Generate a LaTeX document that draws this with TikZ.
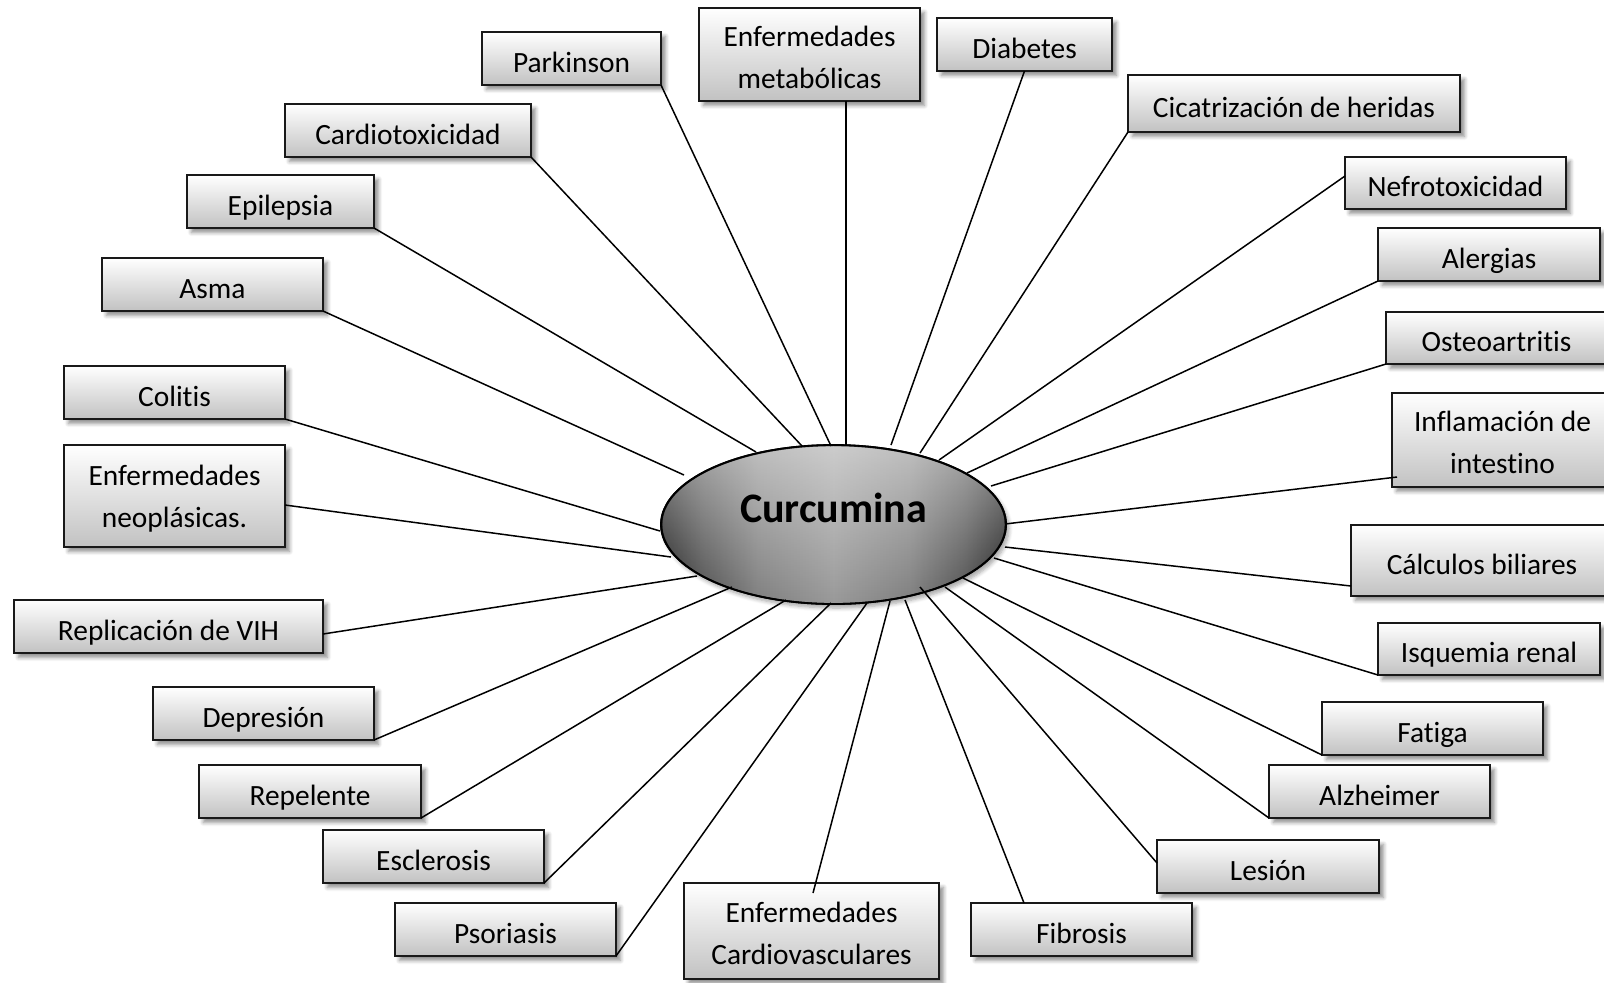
\documentclass[tikz,border=0pt]{standalone}
\usepackage{fontspec}
\setmainfont{Carlito}[Ligatures=NoCommon]
\usetikzlibrary{calc,shadows.blur,shapes.geometric,fadings}
\pgfdeclarehorizontalshading{curch}{100bp}{color(0bp)=(black!88); color(25bp)=(black!88); color(31bp)=(black!68); color(39bp)=(black!50); color(50bp)=(black!40); color(61bp)=(black!50); color(69bp)=(black!68); color(75bp)=(black!88); color(100bp)=(black!88)}
\tikzset{
  boxbase/.style={draw=black!90, line width=0.9pt, inner sep=0pt, outer sep=0pt,
    top color=white, bottom color=black!24, font=\fontsize{14.7}{21}\selectfont,
    blur shadow={shadow xshift=2.2pt, shadow yshift=-2.2pt, shadow blur steps=6, shadow opacity=45}},
  one/.style={boxbase, text height=13.5pt, text depth=0pt},
  two/.style={boxbase, align=center},
  conn/.style={draw=black, line width=0.75pt},
  centre/.style={ellipse, draw=black, line width=0.9pt, shading=curch, inner sep=0pt,
    minimum width=172.5pt, minimum height=79.5pt,
    blur shadow={shadow xshift=1.5pt, shadow yshift=-2pt, shadow blur steps=6, shadow opacity=35}},
  shine/.style={fill=white, fill opacity=0.5, path fading=south}
}
\newcommand\mkbox[7]{\node[#1, minimum width={(#5-#3)*0.5pt}, minimum height={(#6-#4)*0.5pt}] (#2) at ({(#3+#5)/2},{(#4+#6)/2}) {#7};}
\newcommand\fl{\rule{0pt}{13pt}}
\begin{document}
\begin{tikzpicture}[x=0.5pt,y=-0.5pt]
\useasboundingbox (0,0) rectangle (1604,982);
\clip (0,0) rectangle (1604,982);
\node[centre] (cur) at (833.5,524.5) {};
\path[shine] (cur.center) ellipse [x radius=171, y radius=78];
\draw[line width=0.9pt] (cur.center) ellipse [x radius=172.5, y radius=79.5];
\node[font=\fontsize{21}{25}\selectfont\bfseries, text height=13.5pt, text depth=16pt, inner sep=0pt] (curtext) at (cur.center) {Curcumina};
% boxes
\mkbox{one}{parkinson}{482}{32}{661}{85}{Parkinson}
\mkbox{two}{enfmet}{699}{8}{920}{101}{\fl Enfermedades\\metabólicas}
\mkbox{one}{diabetes}{937}{18}{1112}{71}{Diabetes}
\mkbox{one}{cicat}{1128}{75}{1460}{132}{Cicatrización de heridas}
\mkbox{one}{nefro}{1345}{157}{1566}{209}{Nefrotoxicidad}
\mkbox{one}{alerg}{1378}{228}{1600}{281}{Alergias}
\mkbox{one}{osteo}{1386}{312}{1607}{364}{Osteoartritis}
\mkbox{two}{inflam}{1392}{393}{1613}{487}{\fl Inflamación de\\intestino}
\mkbox{one}{calc}{1351}{525}{1613}{596}{Cálculos biliares}
\mkbox{one}{isq}{1378}{623}{1600}{675}{Isquemia renal}
\mkbox{one}{fatiga}{1322}{702}{1543}{755}{Fatiga}
\mkbox{one}{alz}{1269}{765}{1490}{818}{Alzheimer}
\mkbox{one}{lesion}{1157}{840}{1379}{893}{Lesión}
\mkbox{one}{fibrosis}{971}{903}{1192}{956}{Fibrosis}
\mkbox{two}{cardio}{684}{883}{939}{979}{\fl Enfermedades\\Cardiovasculares}
\mkbox{one}{psor}{395}{903}{616}{956}{Psoriasis}
\mkbox{one}{escl}{323}{830}{544}{883}{Esclerosis}
\mkbox{one}{repel}{199}{765}{421}{818}{Repelente}
\mkbox{one}{depr}{153}{687}{374}{740}{Depresión}
\mkbox{one}{vih}{14}{600}{323}{653}{Replicación de VIH}
\mkbox{two}{neo}{64}{445}{285}{547}{\fl Enfermedades\\neoplásicas.}
\mkbox{one}{colitis}{64}{366}{285}{419}{Colitis}
\mkbox{one}{asma}{102}{258}{323}{311}{Asma}
\mkbox{one}{epil}{187}{175}{374}{228}{Epilepsia}
\mkbox{one}{cardiotox}{285}{104}{531}{157}{Cardiotoxicidad}
% connector ends at the centre
\coordinate (eParkinson) at (831,446);
\coordinate (eEnfmet) at (846,445);
\coordinate (eDiabetes) at (891,445);
\coordinate (eCicat) at (920,453);
\coordinate (eNefro) at (939,460);
\coordinate (eAlerg) at (967,473);
\coordinate (eOsteo) at (991,486);
\coordinate (eInflam) at (1005,524);
\coordinate (eCalc) at (1005,547);
\coordinate (eIsq) at (994,558);
\coordinate (eFatiga) at (963,578);
\coordinate (eAlz) at (945,587);
\coordinate (eLesion) at (920,587);
\coordinate (eFibrosis) at (905,600);
\coordinate (eCardio) at (890,601);
\coordinate (ePsor) at (867,603);
\coordinate (eEscl) at (831,603);
\coordinate (eRepel) at (786,600);
\coordinate (eDepr) at (732,587);
\coordinate (eVih) at (697,576);
\coordinate (eNeo) at (671,557);
\coordinate (eColitis) at (660,531);
\coordinate (eAsma) at (684,475);
\coordinate (eEpil) at (756,452);
\coordinate (eCardiotox) at (802,446);
% connectors
\draw[conn] (parkinson.south east) -- (eParkinson);
\draw[conn] (enfmet.south -| eEnfmet) -- (eEnfmet);
\draw[conn] (diabetes.south) -- (eDiabetes);
\draw[conn] (cicat.south west) -- (eCicat);
\draw[conn] ([yshift=3.5pt]nefro.west) -- (eNefro);
\draw[conn] (alerg.south west) -- (eAlerg);
\draw[conn] (osteo.south west) -- (eOsteo);
\draw[conn] ([xshift=2.5pt,yshift=5pt]inflam.south west) -- (eInflam);
\draw[conn] ([yshift=5pt]calc.south west) -- (eCalc);
\draw[conn] (isq.south west) -- (eIsq);
\draw[conn] (fatiga.south west) -- (eFatiga);
\draw[conn] (alz.south west) -- (eAlz);
\draw[conn] ([yshift=1.75pt]lesion.west) -- (eLesion);
\draw[conn] ([xshift=26.5pt]fibrosis.north west) -- (eFibrosis);
\draw[conn] ([xshift=64.5pt,yshift=-5pt]cardio.north west) -- (eCardio);
\draw[conn] (psor.south east) -- (ePsor);
\draw[conn] (escl.south east) -- (eEscl);
\draw[conn] (repel.south east) -- (eRepel);
\draw[conn] (depr.south east) -- (eDepr);
\draw[conn] ([yshift=-3.75pt]vih.east) -- (eVih);
\draw[conn] ([yshift=-4.5pt]neo.east) -- (eNeo);
\draw[conn] (colitis.south east) -- (eColitis);
\draw[conn] (asma.south east) -- (eAsma);
\draw[conn] (epil.south east) -- (eEpil);
\draw[conn] (cardiotox.south east) -- (eCardiotox);
\end{tikzpicture}
\end{document}
